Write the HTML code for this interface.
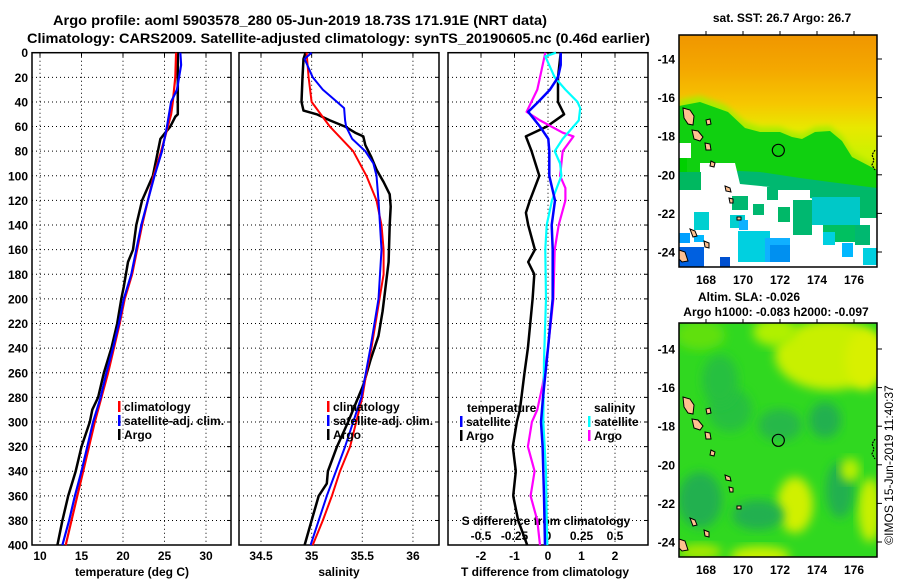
<!DOCTYPE html>
<html><head><meta charset="utf-8"><style>
html,body{margin:0;padding:0;background:#fff;}
svg{display:block;font-family:"Liberation Sans",Arial,sans-serif;font-weight:bold;}
</style></head><body>
<svg id="fig" width="900" height="580" viewBox="0 0 900 580" xmlns="http://www.w3.org/2000/svg">
<defs>
<filter id="blur" x="-20%" y="-20%" width="140%" height="140%"><feGaussianBlur stdDeviation="5"/></filter>
<filter id="blur2" x="-20%" y="-20%" width="140%" height="140%"><feGaussianBlur stdDeviation="3"/></filter>
<linearGradient id="sstGrad" x1="0" y1="0" x2="0" y2="1">
<stop offset="0" stop-color="#f09600"/><stop offset="0.15" stop-color="#f4a800"/><stop offset="0.3" stop-color="#f6c800"/><stop offset="0.4" stop-color="#e8e800"/><stop offset="0.5" stop-color="#d0f000"/><stop offset="1" stop-color="#c0f000"/>
</linearGradient>
<clipPath id="clipTop"><rect x="679" y="35" width="198" height="232"/></clipPath>
<clipPath id="clipBot"><rect x="679" y="323" width="198" height="234"/></clipPath>
</defs>
<text x="53" y="25" font-size="14" textLength="494" lengthAdjust="spacingAndGlyphs">Argo profile: aoml 5903578_280 05-Jun-2019 18.73S 171.91E (NRT data)</text>
<text x="27" y="43" font-size="14" textLength="623" lengthAdjust="spacingAndGlyphs">Climatology: CARS2009. Satellite-adjusted climatology: synTS_20190605.nc (0.46d earlier)</text>
<g id="charts"></g>
<g id="maps"></g>
</svg>
<script>
// ---------- data ----------
const depthTicks = [0,20,40,60,80,100,120,140,160,180,200,220,240,260,280,300,320,340,360,380,400];
const tempTicks = [10,15,20,25,30];
const salTicks = [34.5,35,35.5,36];
const salTickLabels = ['34.5','35','35.5','36'];
const tdiffTicks = [-2,-1,0,1,2];
const sdiffTicks = [-0.5,-0.25,0,0.25,0.5];
const sdiffTickLabels = ['-0.5','-0.25','0','0.25','0.5'];

const climTDepth = [0,20,40,50,60,80,100,120,140,160,180,200,220,240,260,280,300,320,340,360,380,400];
const climT      = [26.4,26.3,26.0,25.8,25.4,24.6,23.7,23.0,22.3,21.7,21.1,20.2,19.6,18.9,18.2,17.4,16.6,15.9,15.2,14.5,13.8,13.1];
const satTDepth  = [0,10,30,40,60,80,100,120,140,160,180,200,220,240,260,280,300,320,340,360,380,400];
const satT       = [26.9,27.0,26.5,25.8,25.3,24.7,23.8,23.0,22.2,21.6,21.0,20.1,19.5,18.8,18.0,17.3,16.4,15.7,15.0,14.2,13.5,12.7];
const argoTDepth = [0,50,52,60,65,70,80,100,120,140,160,170,190,200,220,240,260,280,290,300,320,340,360,380,400];
const argoT      = [26.6,26.6,26.3,25.7,25.1,24.5,24.2,23.6,22.3,21.6,21.2,20.6,20.1,19.8,19.3,18.6,17.7,17.0,16.3,16.0,15.0,14.3,13.4,12.7,12.1];

const climSDepth = [0,20,40,60,80,100,120,140,160,180,200,220,240,260,280,300,320,340,360,380,400];
const climS      = [34.95,34.97,35.0,35.18,35.41,35.54,35.64,35.69,35.71,35.71,35.67,35.63,35.59,35.54,35.5,35.44,35.38,35.28,35.2,35.11,35.01];
const satSDepth  = [0,5,20,30,40,45,55,60,70,80,90,100,120,160,200,240,280,320,360,400];
const satS       = [35.0,34.93,35.01,35.11,35.25,35.32,35.33,35.34,35.4,35.53,35.61,35.64,35.66,35.69,35.66,35.58,35.49,35.33,35.15,34.99];
const argoSDepth = [0,5,20,40,47,50,55,60,65,68,75,85,95,105,115,125,140,170,190,210,230,250,270,280,300,320,340,350,360,380,400];
const argoS      = [34.94,34.92,34.91,34.9,34.92,35.05,35.18,35.33,35.43,35.51,35.53,35.59,35.64,35.71,35.77,35.78,35.77,35.76,35.73,35.70,35.66,35.58,35.51,35.46,35.36,35.25,35.16,35.15,35.07,35.0,34.93];

const dArgoTDepth = [0,20,40,50,60,68,80,100,120,130,140,160,170,180,200,240,260,290,300,320,340,360,380,400];
const dArgoT      = [0.38,0.3,0.3,0.48,-0.04,-0.66,-0.49,-0.26,-0.54,-0.66,-0.59,-0.39,-0.59,-0.41,-0.46,-0.6,-0.7,-0.84,-0.93,-1.05,-0.96,-1.04,-0.89,-0.62];
const dSatTDepth  = [0,10,20,30,40,48,60,70,80,100,120,140,160,200,240,280,300,320,360,400];
const dSatT       = [0.38,0.38,0.3,0.06,-0.29,-0.59,-0.24,0.01,0.04,0.04,0.21,0.11,0.14,0.14,0.0,-0.15,-0.21,-0.16,-0.12,-0.09];
const dSatSDepth  = [0,3,20,30,40,45,55,70,80,90,100,120,140,160,200,250,300,340,380,400];
const dSatS       = [0.06,-0.02,0.05,0.13,0.22,0.24,0.23,0.11,0.05,0.09,0.10,0.03,-0.01,-0.02,-0.015,-0.03,-0.035,-0.015,-0.01,-0.005];
const dArgoSDepth = [0,20,30,48,55,65,68,80,100,110,120,140,160,200,240,270,290,300,320,340,360,380,400];
const dArgoS      = [-0.02,-0.06,-0.08,-0.16,-0.06,0.11,0.19,0.11,0.09,0.13,0.13,0.08,0.05,0.04,0.0,-0.04,-0.08,-0.12,-0.15,-0.10,-0.13,-0.08,-0.06];

const latTicks = [-14,-16,-18,-20,-22,-24];
const lonTicks = [168,170,172,174,176];
const floatLon = 171.91;
const floatLat = -18.73;

// ---------- scales ----------
const Y0 = 52.7, Y1 = 545;
const yD = d => Y0 + d * 1.231;
const xT = t => 40 + (t - 10) * 8.3;
const xS = s => 261 + (s - 34.5) * 101.3;
const xDT = d => 548 + d * 33.5;
const xDS = s => 548 + s * 134;
const panels = [{x0:32,x1:231},{x0:239,x1:439},{x0:448,x1:648}];
const lonX = lon => 780 + (lon - 172) * 18.5;
const latYTop = lat => 59 + (-14 - lat) * 19.3;
const latYBot = lat => 349 + (-14 - lat) * 19.3;

const NS = 'http://www.w3.org/2000/svg';
function mk(parent, tag, attrs, txt){
  const e = document.createElementNS(NS, tag);
  for (const k in attrs) e.setAttribute(k, attrs[k]);
  if (txt !== undefined) e.textContent = txt;
  parent.appendChild(e);
  return e;
}
const charts = document.getElementById('charts');
const maps = document.getElementById('maps');

// ---------- panels: grid, frame ----------
const xTickSets = [[tempTicks, xT, tempTicks.map(String)], [salTicks, xS, salTickLabels], [tdiffTicks, xDT, tdiffTicks.map(String)]];
const panelNames = ['temperature-panel','salinity-panel','difference-panel'];
panels.forEach((p, i) => {
  const g = mk(charts, 'g', {});
  
  
  depthTicks.forEach(d => {
    if (d === 0 || d === 400) return;
    const l = mk(g, 'line', {x1:p.x0, x2:p.x1, y1:yD(d), y2:yD(d), stroke:'#000', 'stroke-width':1, 'stroke-dasharray':'1,3'});
    
    
    const t1 = mk(g, 'line', {x1:p.x1-4, x2:p.x1, y1:yD(d), y2:yD(d), stroke:'#000'});
    
    
  });
  const [ticks, sc, labels] = xTickSets[i];
  ticks.forEach((v, j) => {
    const x = sc(v);
    const l = mk(g, 'line', {x1:x, x2:x, y1:Y0, y2:Y1, stroke:'#000', 'stroke-width':1, 'stroke-dasharray':'1,3'});
    
    
    const tk = mk(g, 'line', {x1:x, x2:x, y1:Y0, y2:Y0+4, stroke:'#000'});
    
    
    const tx = mk(g, 'text', {x:x, y:560, 'font-size':12, 'text-anchor':'middle'}, labels[j]);
    
    
  });
  const fr = mk(g, 'rect', {x:p.x0, y:Y0, width:p.x1-p.x0, height:Y1-Y0, fill:'none', stroke:'#000', 'stroke-width':1.5});
  
  
});
depthTicks.forEach(d => {
  const t = mk(charts, 'text', {x:28, y:yD(d)+4.5, 'font-size':12, 'text-anchor':'end'}, String(d));
  
  
});
const axl = [['temperature (deg C)', 132, 'temperature-axis-title'], ['salinity', 339, 'salinity-axis-title'], ['T difference from climatology', 545, 'tdiff-axis-title']];
axl.forEach(a => {
  const t = mk(charts, 'text', {x:a[1], y:576, 'font-size':12, 'text-anchor':'middle'}, a[0]);
  
  
});
const sdl = mk(charts, 'text', {x:546, y:525, 'font-size':12, 'text-anchor':'middle'}, 'S difference from climatology');


sdiffTicks.forEach((v, j) => {
  const t = mk(charts, 'text', {x:xDS(v), y:540, 'font-size':12, 'text-anchor':'middle'}, sdiffTickLabels[j]);
  
  
});

// ---------- profile lines ----------
function drawLine(depths, vals, sc, color, w, name){
  const pts = depths.map((d, i) => sc(vals[i]).toFixed(1) + ',' + yD(d).toFixed(1)).join(' ');
  const pl = mk(charts, 'polyline', {points:pts, fill:'none', stroke:color, 'stroke-width':w, 'stroke-linejoin':'round'});
  
  
}
drawLine(argoTDepth, argoT, xT, '#000', 2.5, 'argo-temperature-line');
drawLine(climTDepth, climT, xT, '#ff0000', 2.2, 'climatology-temperature-line');
drawLine(satTDepth, satT, xT, '#0000ff', 2.2, 'satellite-temperature-line');
drawLine(argoSDepth, argoS, xS, '#000', 2.5, 'argo-salinity-line');
drawLine(climSDepth, climS, xS, '#ff0000', 2, 'climatology-salinity-line');
drawLine(satSDepth, satS, xS, '#0000ff', 2, 'satellite-salinity-line');
drawLine(dArgoTDepth, dArgoT, xDT, '#000', 2.5, 'argo-tdiff-line');
drawLine(dArgoSDepth, dArgoS, xDS, '#ff00ff', 2.2, 'argo-sdiff-line');
drawLine(dSatSDepth, dSatS, xDS, '#00ffff', 2.2, 'satellite-sdiff-line');
drawLine(dSatTDepth, dSatT, xDT, '#0000ff', 2.5, 'satellite-tdiff-line');

// ---------- legends ----------
function legend(x, y, color, label, name){
  const g = mk(charts, 'g', {});
  
  
  const m = mk(g, 'rect', {x:x, y:y-10, width:2.5, height:11, fill:color});
  
  
  const t = mk(g, 'text', {x:x+6, y:y, 'font-size':12}, label);
  
  
}
legend(118, 411, '#ff0000', 'climatology', 'legend-t-climatology');
legend(118, 425, '#0000ff', 'satellite-adj. clim.', 'legend-t-satellite');
legend(118, 439, '#000', 'Argo', 'legend-t-argo');
legend(327, 411, '#ff0000', 'climatology', 'legend-s-climatology');
legend(327, 425, '#0000ff', 'satellite-adj. clim.', 'legend-s-satellite');
legend(327, 439, '#000', 'Argo', 'legend-s-argo');
const lt = mk(charts, 'text', {x:467, y:412, 'font-size':12}, 'temperature');


const ls = mk(charts, 'text', {x:594, y:412, 'font-size':12}, 'salinity');


legend(460, 426, '#0000ff', 'satellite', 'legend-tdiff-satellite');
legend(460, 440, '#000', 'Argo', 'legend-tdiff-argo');
legend(588, 426, '#00ffff', 'satellite', 'legend-sdiff-satellite');
legend(588, 440, '#ff00ff', 'Argo', 'legend-sdiff-argo');

// ---------- maps ----------
const islands = [
 [[683,108],[690,110],[694,116],[693,125],[688,124],[684,118]],
 [[692,130],[698,131],[703,137],[700,141],[694,139]],
 [[706,120],[710,119],[711,124],[707,125]],
 [[705,143],[710,144],[711,150],[706,150]],
 [[711,161],[715,163],[714,167],[710,166]],
 [[725,186],[730,188],[731,192],[726,191]],
 [[729,198],[733,199],[733,203],[730,203]],
 [[737,217],[741,217],[741,220],[737,220]],
 [[690,229],[695,231],[697,236],[693,237]],
 [[704,241],[709,243],[709,248],[705,247]],
 [[679,250],[685,252],[688,261],[682,262],[679,259]]
];
function drawIslands(g, dy){
  islands.forEach(pts => {
    const p = mk(g, 'polygon', {points:pts.map(q => q[0] + ',' + (q[1]+dy)).join(' '), fill:'#ffc090', stroke:'#000', 'stroke-width':1});
    
    
  });
  const c = mk(g, 'path', {d:`M875 ${150+dy} l-3 5 l2 5 l-2 5 l3 5`, fill:'none', stroke:'#000', 'stroke-width':1.2, 'stroke-dasharray':'2,1'});
  
  
}
function mapAxes(g, y0, y1, latY, labelY){
  latTicks.forEach(l => {
    const y = latY(l);
    const t = mk(g, 'text', {x:675, y:y+4.5, 'font-size':12, 'text-anchor':'end'}, String(l));
    
    
    const tk = mk(g, 'line', {x1:877, x2:882, y1:y, y2:y, stroke:'#000'});
    
    
  });
  lonTicks.forEach(l => {
    const x = lonX(l);
    const t = mk(g, 'text', {x:x, y:labelY, 'font-size':12, 'text-anchor':'middle'}, String(l));
    
    
    const tk = mk(g, 'line', {x1:x, x2:x, y1:y0-4, y2:y0, stroke:'#000'});
    
    
  });
  const fr = mk(g, 'rect', {x:679, y:y0, width:198, height:y1-y0, fill:'none', stroke:'#000', 'stroke-width':1.5});
  
  
}
// top SST map
const gTop = mk(maps, 'g', {});


const gTopImg = mk(gTop, 'g', {'clip-path':'url(#clipTop)'});
mk(gTopImg, 'rect', {x:679, y:35, width:198, height:232, fill:'url(#sstGrad)'});
mk(gTopImg, 'polygon', {points:'679,100 700,96 725,105 745,122 760,127 780,127 792,132 802,134 815,127 830,126 842,136 852,152 877,166 877,267 679,267', fill:'#a8ec00', filter:'url(#blur2)'});
mk(gTopImg, 'polygon', {points:'679,106 700,102 728,112 745,128 760,132 780,132 792,137 802,139 815,132 830,131 842,141 852,157 877,170 877,267 679,267', fill:'#10d010'});
mk(gTopImg, 'polygon', {points:'679,176 720,170 760,172 800,178 830,182 877,188 877,267 679,267', fill:'#00b870'});
mk(gTopImg, 'polygon', {points:'679,188 700,188 700,163 735,163 740,184 770,187 770,190 810,190 810,198 877,212 877,267 679,267', fill:'#ffffff'});
mk(gTopImg, 'rect', {x:679, y:143, width:12, height:15, fill:'#fff'});
const patches = [
 [732,196,16,14,'#00b870'],[753,204,11,11,'#00b870'],[767,187,11,13,'#00b870'],[778,207,12,15,'#00b868'],
 [793,200,19,35,'#00b870'],[812,197,48,28,'#00c8c8'],[860,190,17,28,'#00b868'],[823,225,47,17,'#00c060'],
 [855,225,15,20,'#00b870'],[694,212,15,18,'#00d0d0'],[730,215,15,13,'#00d0d0'],[739,220,9,10,'#10b0ff'],
 [694,235,10,7,'#00b8ff'],[738,231,32,31,'#00d0e0'],[765,238,25,24,'#10b0ff'],[770,245,20,17,'#0090f0'],
 [679,233,11,10,'#00a0ff'],[679,247,25,20,'#0060e0'],[720,257,10,10,'#0050d0'],[823,232,12,13,'#00d0e0'],
 [842,243,11,14,'#00b8ff'],[863,248,14,17,'#00d0e0'],[679,158,8,14,'#00d000'],[679,172,22,18,'#00b860']
];
patches.forEach(p => {
  const r = mk(gTopImg, 'rect', {x:p[0], y:p[1], width:p[2], height:p[3], fill:p[4]});
  
  
});
drawIslands(gTop, 0);
const c1 = mk(gTop, 'circle', {cx:lonX(floatLon), cy:latYTop(floatLat), r:6, fill:'none', stroke:'#000', 'stroke-width':1.2});


mapAxes(gTop, 35, 267, latYTop, 284);
const tt = mk(gTop, 'text', {x:782, y:22, 'font-size':12, 'text-anchor':'middle'}, 'sat. SST: 26.7 Argo: 26.7');



// bottom SLA map
const gBot = mk(maps, 'g', {});


const gBotImg = mk(gBot, 'g', {'clip-path':'url(#clipBot)'});
mk(gBotImg, 'rect', {x:679, y:323, width:198, height:234, fill:'#30d820'});
const blobs = [
 [830,355,55,35,'#c8f000'],[865,360,20,30,'#d8f000'],[775,332,22,14,'#b0f000'],[700,335,25,15,'#60e010'],
 [795,505,18,28,'#d0f000'],[870,510,12,32,'#c8f000'],[760,556,30,10,'#c8f000'],[700,552,22,8,'#a8e800'],
 [700,500,22,28,'#20b050'],[758,515,26,15,'#20b050'],[840,490,14,28,'#20b050'],[730,410,22,22,'#28c040'],
 [780,425,22,16,'#28b848'],[825,420,16,18,'#20b050'],[720,380,18,25,'#28c040'],[850,470,10,12,'#b8f000']
];
blobs.forEach(b => {
  const e = mk(gBotImg, 'ellipse', {cx:b[0], cy:b[1], rx:b[2], ry:b[3], fill:b[4], filter:'url(#blur)'});
  
  
});
drawIslands(gBot, 289);
const c2 = mk(gBot, 'circle', {cx:lonX(floatLon), cy:latYBot(floatLat), r:6, fill:'none', stroke:'#000', 'stroke-width':1.2});


mapAxes(gBot, 323, 557, latYBot, 574);
const bt1 = mk(gBot, 'text', {x:749, y:301, 'font-size':12, 'text-anchor':'middle'}, 'Altim. SLA: -0.026');


const bt2 = mk(gBot, 'text', {x:776, y:316, 'font-size':12, 'text-anchor':'middle'}, 'Argo h1000: -0.083 h2000: -0.097');


const cp = mk(maps, 'text', {x:0, y:0, 'font-size':12, 'font-weight':'normal', 'text-anchor':'middle', transform:'translate(893,465) rotate(-90)'}, '©IMOS 15-Jun-2019 11:40:37');


</script>
</body></html>
